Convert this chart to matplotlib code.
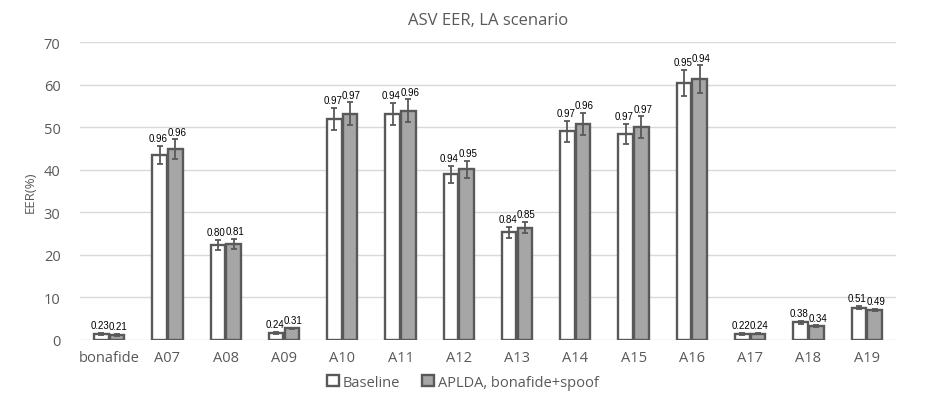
import numpy as np
import matplotlib.pyplot as plt

# data
categories = ["bonafide", "A07", "A08", "A09", "A10", "A11", "A12",
              "A13", "A14", "A15", "A16", "A17", "A18", "A19"]
baseline = [1.4, 43.5, 22.3, 1.6, 52.0, 53.1, 39.0, 25.3, 49.1, 48.4, 60.4, 1.4, 4.1, 7.6]
baseline_err = [0.2, 2.2, 1.2, 0.2, 2.6, 2.6, 2.0, 1.3, 2.5, 2.4, 3.1, 0.2, 0.3, 0.4]
aplda = [1.2, 44.9, 22.5, 2.7, 53.2, 53.9, 40.2, 26.4, 50.9, 50.0, 61.4, 1.5, 3.2, 7.0]
aplda_err = [0.2, 2.3, 1.2, 0.2, 2.7, 2.7, 2.0, 1.3, 2.6, 2.6, 3.2, 0.2, 0.2, 0.3]
baseline_lbl = ["0.23", "0.96", "0.80", "0.24", "0.97", "0.94", "0.94",
                "0.84", "0.97", "0.97", "0.95", "0.22", "0.38", "0.51"]
aplda_lbl = ["0.21", "0.96", "0.81", "0.31", "0.97", "0.96", "0.95",
             "0.85", "0.96", "0.97", "0.94", "0.24", "0.34", "0.49"]

plt.rcParams["font.family"] = ["Open Sans", "DejaVu Sans"]

fig = plt.figure(figsize=(9.26, 4.02), dpi=100)
ax = fig.add_axes([0.0864, 0.152, 0.881, 0.740])

x = np.arange(len(categories))
w = 0.25
off = 0.135
edge = "#595959"

b1 = ax.bar(x - off, baseline, w, color="white", edgecolor=edge, linewidth=1.7,
            yerr=baseline_err, ecolor=edge, capsize=2.5,
            error_kw=dict(elinewidth=1.3, capthick=1.3), label="Baseline", zorder=3)
b2 = ax.bar(x + off, aplda, w, color="#a6a6a6", edgecolor=edge, linewidth=1.7,
            yerr=aplda_err, ecolor=edge, capsize=2.5,
            error_kw=dict(elinewidth=1.3, capthick=1.3), label="APLDA, bonafide+spoof", zorder=3)

# value labels above each error bar
for xi, v, e, t in zip(x - off, baseline, baseline_err, baseline_lbl):
    ax.annotate(t, (xi, v + e), xytext=(-1, 2), textcoords="offset points",
                ha="center", va="bottom", fontsize=7, color="black",
                family=["Liberation Sans", "DejaVu Sans"])
for xi, v, e, t in zip(x + off, aplda, aplda_err, aplda_lbl):
    ax.annotate(t, (xi, v + e), xytext=(1, 2), textcoords="offset points",
                ha="center", va="bottom", fontsize=7, color="black",
                family=["Liberation Sans", "DejaVu Sans"])

ax.set_xlim(-0.5, len(categories) - 0.5)
ax.set_ylim(0, 70)
ax.set_yticks(range(0, 71, 10))
ax.set_xticks(x)
ax.set_xticklabels(categories)
ax.tick_params(axis="both", length=0, labelsize=10.5, labelcolor="#595959")
ax.tick_params(axis="y", pad=14)
ax.tick_params(axis="x", pad=7)
ax.grid(axis="y", color="#d9d9d9", linewidth=1, zorder=0)
ax.set_axisbelow(True)
for s in ax.spines.values():
    s.set_visible(False)

ax.set_ylabel("EER(%)", fontsize=9.5, color="#595959", labelpad=5)
ax.set_title("ASV EER, LA scenario", fontsize=12, color="#595959", pad=13)

fig.legend(handles=[b1, b2], loc="lower center", bbox_to_anchor=(0.5, -0.005),
           ncol=2, frameon=False, fontsize=10.5, labelcolor="#595959",
           handlelength=0.8, handleheight=0.8, handletextpad=0.3, columnspacing=1.5)

fig.savefig("out.png", dpi=100)
